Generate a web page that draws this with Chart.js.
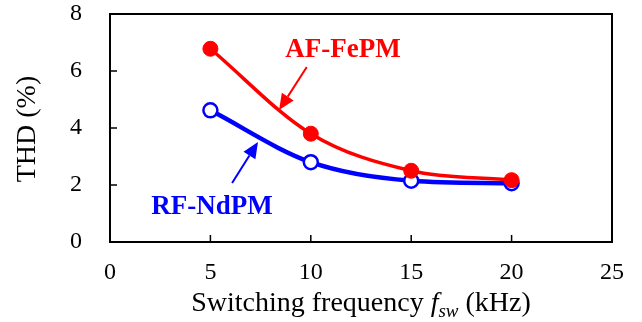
<!DOCTYPE html>
<html>
<head>
<meta charset="utf-8">
<script src="https://cdn.jsdelivr.net/npm/chart.js@4"></script>
<style>
  html, body { margin: 0; padding: 0; background: #fff; }
  #wrap { width: 642px; height: 322px; }
</style>
</head>
<body>
<div id="wrap"><canvas id="thdChart" width="642" height="322"></canvas></div>
<script>
// Data
const frequencies = [5, 10, 15, 20];            // kHz
const thdAfFePM = [6.78, 3.8, 2.5, 2.17];       // %
const thdRfNdPM = [4.62, 2.8, 2.15, 2.06];      // %
const xTicks = [0, 5, 10, 15, 20, 25];
const yTicks = [0, 2, 4, 6, 8];

const serif = '"Liberation Serif", "Times New Roman", serif';
const RED = '#ff0000';
const BLUE = '#0000ff';

function toPoints(xs, ys) {
    return xs.map((x, i) => ({ x: x, y: ys[i] }));
}

// Draws the frame, inward ticks, axis titles and the labelled arrows
const decorations = {
    id: 'decorations',
    afterDraw(chart) {
        const { ctx, chartArea: a, scales: { x, y } } = chart;
        ctx.save();

        // frame
        ctx.strokeStyle = '#000';
        ctx.lineWidth = 2;
        ctx.strokeRect(a.left, a.top, a.right - a.left, a.bottom - a.top);

        // inward ticks
        ctx.lineWidth = 1.5;
        ctx.beginPath();
        xTicks.forEach(v => {
            const px = x.getPixelForValue(v);
            ctx.moveTo(px, a.bottom);
            ctx.lineTo(px, a.bottom - 7);
        });
        yTicks.forEach(v => {
            const py = y.getPixelForValue(v);
            ctx.moveTo(a.left, py);
            ctx.lineTo(a.left + 7, py);
        });
        ctx.stroke();

        // y axis title
        ctx.fillStyle = '#000';
        ctx.font = '28px ' + serif;
        ctx.textAlign = 'center';
        ctx.textBaseline = 'middle';
        ctx.save();
        ctx.translate(28, 129);
        ctx.rotate(-Math.PI / 2);
        ctx.fillText('THD (%)', 0, 0);
        ctx.restore();

        // x axis title with italic f and subscript sw
        const parts = [
            { t: 'Switching frequency ', f: '28px ' + serif, dy: 0 },
            { t: 'f', f: 'italic 28px ' + serif, dy: 0 },
            { t: 'sw', f: 'italic 19px ' + serif, dy: 6 },
            { t: ' (kHz)', f: '28px ' + serif, dy: 0 }
        ];
        let total = 0;
        parts.forEach(p => { ctx.font = p.f; p.w = ctx.measureText(p.t).width; total += p.w; });
        let cx = (a.left + a.right) / 2 - total / 2;
        ctx.textAlign = 'left';
        ctx.textBaseline = 'alphabetic';
        parts.forEach(p => {
            ctx.font = p.f;
            ctx.fillText(p.t, cx, 311 + p.dy);
            cx += p.w;
        });

        // series labels with arrows
        drawLabel(ctx, 'AF-FePM', RED, x.getPixelForValue(11.6), y.getPixelForValue(6.75));
        drawArrow(ctx, RED, x.getPixelForValue(9.8), y.getPixelForValue(6.14),
                  x.getPixelForValue(8.42), y.getPixelForValue(4.63));
        drawLabel(ctx, 'RF-NdPM', BLUE, x.getPixelForValue(5.08), y.getPixelForValue(1.23));
        drawArrow(ctx, BLUE, x.getPixelForValue(6.08), y.getPixelForValue(2.07),
                  x.getPixelForValue(7.37), y.getPixelForValue(3.51));

        ctx.restore();
    }
};

function drawLabel(ctx, text, color, cx, cy) {
    ctx.fillStyle = color;
    ctx.font = 'bold 27px ' + serif;
    ctx.textAlign = 'center';
    ctx.textBaseline = 'middle';
    ctx.fillText(text, cx, cy);
}

function drawArrow(ctx, color, x0, y0, x1, y1) {
    const ang = Math.atan2(y1 - y0, x1 - x0);
    const head = 16, half = 7;
    const bx = x1 - head * Math.cos(ang), by = y1 - head * Math.sin(ang);
    ctx.strokeStyle = color;
    ctx.fillStyle = color;
    ctx.lineWidth = 2;
    ctx.beginPath();
    ctx.moveTo(x0, y0);
    ctx.lineTo(bx, by);
    ctx.stroke();
    ctx.beginPath();
    ctx.moveTo(x1, y1);
    ctx.lineTo(bx + half * Math.sin(ang), by - half * Math.cos(ang));
    ctx.lineTo(bx - half * Math.sin(ang), by + half * Math.cos(ang));
    ctx.closePath();
    ctx.fill();
}

new Chart(document.getElementById('thdChart'), {
    type: 'line',
    data: {
        datasets: [
            {
                label: 'AF-FePM',
                data: toPoints(frequencies, thdAfFePM),
                borderColor: RED,
                borderWidth: 3.5,
                backgroundColor: RED,
                pointBackgroundColor: RED,
                pointBorderColor: RED,
                pointRadius: 7.5,
                pointBorderWidth: 1,
                cubicInterpolationMode: 'monotone'
            },
            {
                label: 'RF-NdPM',
                data: toPoints(frequencies, thdRfNdPM),
                borderColor: BLUE,
                borderWidth: 4.5,
                backgroundColor: '#fff',
                pointBackgroundColor: '#fff',
                pointBorderColor: BLUE,
                pointRadius: 7,
                pointBorderWidth: 2.5,
                cubicInterpolationMode: 'monotone'
            }
        ]
    },
    options: {
        responsive: false,
        animation: false,
        layout: { padding: { top: 0, right: 30, left: 0, bottom: 0 } },
        plugins: {
            legend: { display: false },
            tooltip: { enabled: false }
        },
        scales: {
            x: {
                type: 'linear',
                min: 0,
                max: 25,
                afterBuildTicks: s => { s.ticks = xTicks.map(v => ({ value: v })); },
                afterFit: s => { s.height = 80; },
                grid: { display: false },
                border: { display: false },
                ticks: { color: '#000', font: { family: serif, size: 24 }, padding: 8, maxRotation: 0 }
            },
            y: {
                min: 0,
                max: 8,
                afterBuildTicks: s => { s.ticks = yTicks.map(v => ({ value: v })); },
                afterFit: s => { s.width = 110; s.paddingTop = 14; s.paddingBottom = 0; },
                grid: { display: false },
                border: { display: false },
                ticks: { color: '#000', font: { family: serif, size: 24 }, padding: 20 }
            }
        }
    },
    plugins: [decorations]
});
</script>
</body>
</html>
